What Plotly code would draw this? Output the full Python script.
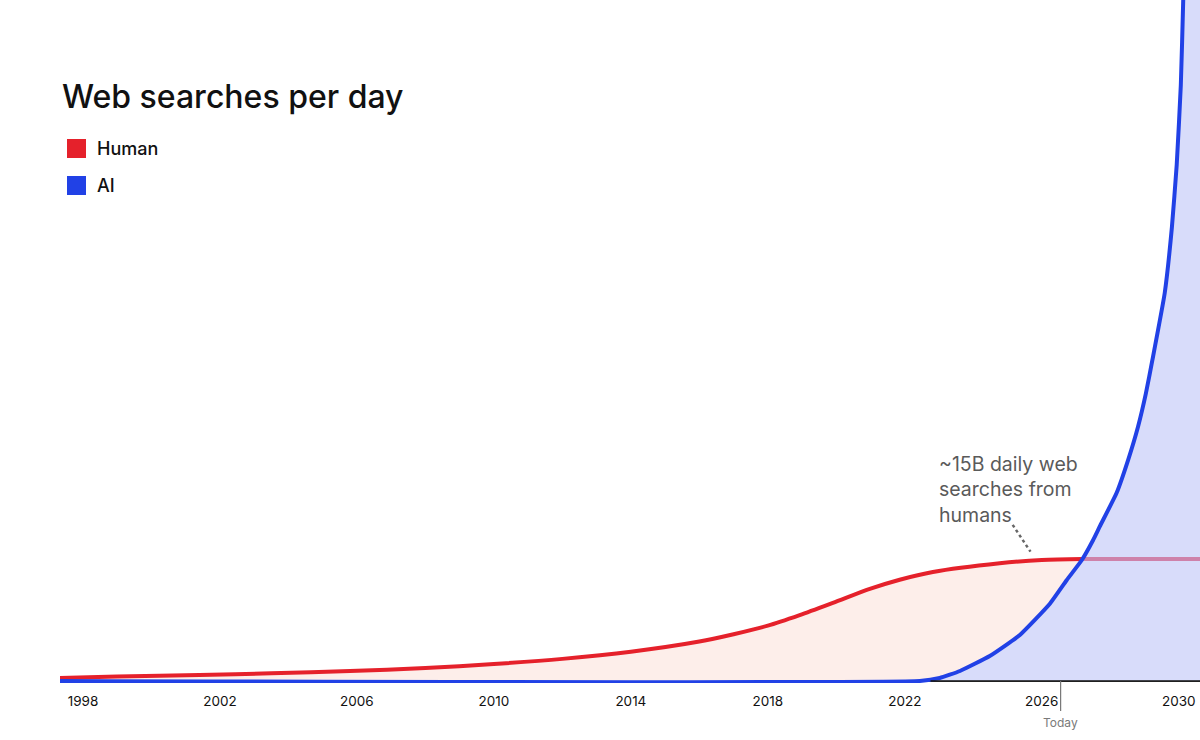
import plotly.graph_objects as go

# ---- data (billions of searches per day) ----
human_years = [1997.33, 1999, 2001.4, 2003.5, 2005.8, 2008, 2010, 2012, 2014, 2016,
               2017, 2018, 2018.93, 2019.9, 2021, 2021.85, 2022.82, 2024.77, 2026,
               2027.2, 2028.5, 2030.62]
human_vals = [0.37, 0.55, 0.74, 0.95, 1.23, 1.6, 2.09, 2.72, 3.6, 4.85,
              5.75, 6.8, 8.1, 9.6, 11.35, 12.45, 13.4, 14.47, 14.88,
              15.0, 15.0, 15.0]

ai_years = [1997.33, 2022.44, 2023.02, 2023.61, 2024.48, 2025.36, 2026.23, 2026.73,
            2027.17, 2027.50, 2027.69, 2028.18, 2028.52, 2028.81, 2029.04, 2029.23,
            2029.59, 2029.80, 2029.94, 2030.06, 2030.13, 2030.22, 2030.3, 2030.4, 2030.7]
ai_vals = [0, 0, 0.37, 1.23, 3.07, 5.66, 9.47, 12.42,
           14.88, 17.34, 18.97, 23.08, 27.17, 31.27, 35.37, 39.47,
           47.71, 55.82, 63.45, 73.28, 83.73, 105, 125, 160, 300]

tick_years = [1998, 2002, 2006, 2010, 2014, 2018, 2022, 2026, 2030]
tick_labels = [str(y) for y in tick_years]

today_year = 2026.55
crossover_year = 2027.2

title_text = "Web searches per day"
series_names = ["Human", "AI"]
note_text = "~15B daily web<br>searches from<br>humans"

RED = "#E5212B"
BLUE = "#2141E6"
AI_FILL = "#D8DCFA"
HUMAN_FILL = "#FDEEEA"
HUMAN_FADE = "#CE82AA"

W, H = 1200, 740
ML, MR, MT, MB = 60, 0, 0, 57


def px(xp):
    return (xp - ML) / (W - ML - MR)


def py(yp):
    return (H - MB - yp) / (H - MT - MB)


fig = go.Figure()

# human fill
fig.add_trace(go.Scatter(x=human_years, y=human_vals, mode="lines",
                         line=dict(width=0, shape="spline", smoothing=0.8),
                         fill="tozeroy", fillcolor=HUMAN_FILL,
                         hoverinfo="skip", showlegend=False))

hy_solid = [y for y in human_years if y <= crossover_year]
hv_solid = [v for y, v in zip(human_years, human_vals) if y <= crossover_year]
hy_fade = [y for y in human_years if y >= crossover_year]
hv_fade = [v for y, v in zip(human_years, human_vals) if y >= crossover_year]

fig.add_trace(go.Scatter(x=hy_solid, y=hv_solid, mode="lines", name=series_names[0],
                         line=dict(color=RED, width=4, shape="spline", smoothing=0.8),
                         showlegend=False))

# AI fill (opaque lavender)
fig.add_trace(go.Scatter(x=ai_years, y=ai_vals, mode="lines",
                         line=dict(width=0, shape="spline", smoothing=0.4),
                         fill="tozeroy", fillcolor=AI_FILL,
                         hoverinfo="skip", showlegend=False))

# faded continuation of human line, seen through the AI area
fig.add_trace(go.Scatter(x=hy_fade, y=hv_fade, mode="lines",
                         line=dict(color=HUMAN_FADE, width=4),
                         showlegend=False))

# AI line
fig.add_trace(go.Scatter(x=ai_years, y=ai_vals, mode="lines", name=series_names[1],
                         line=dict(color=BLUE, width=4, shape="spline", smoothing=0.4),
                         showlegend=False))

shapes = [
    # x-axis baseline
    dict(type="line", xref="paper", yref="y", x0=0, x1=1, y0=0, y1=0,
         line=dict(color="#111111", width=1.5), layer="below"),
    dict(type="line", xref="x", yref="y", x0=2022.75, x1=2030.62, y0=0, y1=0,
         line=dict(color="#111111", width=1.5), layer="above"),
    # today marker
    dict(type="line", xref="x", yref="paper", x0=today_year, x1=today_year,
         y0=py(681), y1=py(711), line=dict(color="#777777", width=1.2)),
    # dotted leader line
    dict(type="line", xref="x", yref="y", x0=2025.15, y0=19.2, x1=2025.67, y1=15.9,
         line=dict(color="#666666", width=2.5, dash="dot")),
    # legend swatches
    dict(type="rect", xref="paper", yref="paper", x0=px(67), x1=px(86), y0=py(139), y1=py(158),
         fillcolor=RED, line=dict(width=0)),
    dict(type="rect", xref="paper", yref="paper", x0=px(67), x1=px(86), y0=py(176), y1=py(195),
         fillcolor=BLUE, line=dict(width=0)),
]

annotations = [
    dict(text=title_text, xref="paper", yref="paper", x=px(60), y=py(96),
         xanchor="left", yanchor="middle", showarrow=False,
         font=dict(family="Inter", size=32, color="#111111", weight=500)),
    dict(text=series_names[0], xref="paper", yref="paper", x=px(95), y=py(148),
         xanchor="left", yanchor="middle", showarrow=False,
         font=dict(family="Inter", size=18, color="#111111", weight=500)),
    dict(text=series_names[1], xref="paper", yref="paper", x=px(95), y=py(185),
         xanchor="left", yanchor="middle", showarrow=False,
         font=dict(family="Inter", size=18, color="#111111", weight=500)),
    dict(text=note_text, xref="x", yref="y", x=2022.93, y=23.6,
         xanchor="left", yanchor="middle", align="left", showarrow=False,
         font=dict(family="Inter", size=19.5, color="#5a5a5a")),
    dict(text="Today", xref="x", yref="paper", x=today_year, y=py(722),
         xanchor="center", yanchor="middle", showarrow=False,
         font=dict(family="Inter", size=12, color="#7a7a7a")),
]

fig.update_layout(
    width=W, height=H,
    margin=dict(l=ML, r=MR, t=MT, b=MB),
    paper_bgcolor="white", plot_bgcolor="white",
    showlegend=False,
    shapes=shapes, annotations=annotations,
    xaxis=dict(range=[1997.33, 2030.62], tickvals=tick_years, ticktext=tick_labels,
               showgrid=False, zeroline=False, showline=False, ticks="",
               ticklabelstandoff=8,
               tickfont=dict(family="Inter", size=13.5, color="#111111"),
               fixedrange=True),
    yaxis=dict(range=[-0.246, 83.73], showgrid=False, zeroline=False, showline=False,
               showticklabels=False, ticks="", fixedrange=True),
)

fig.write_html("out.html", config={"displayModeBar": False},
               post_script="document.body.style.margin='0';document.body.style.overflow='hidden';")
